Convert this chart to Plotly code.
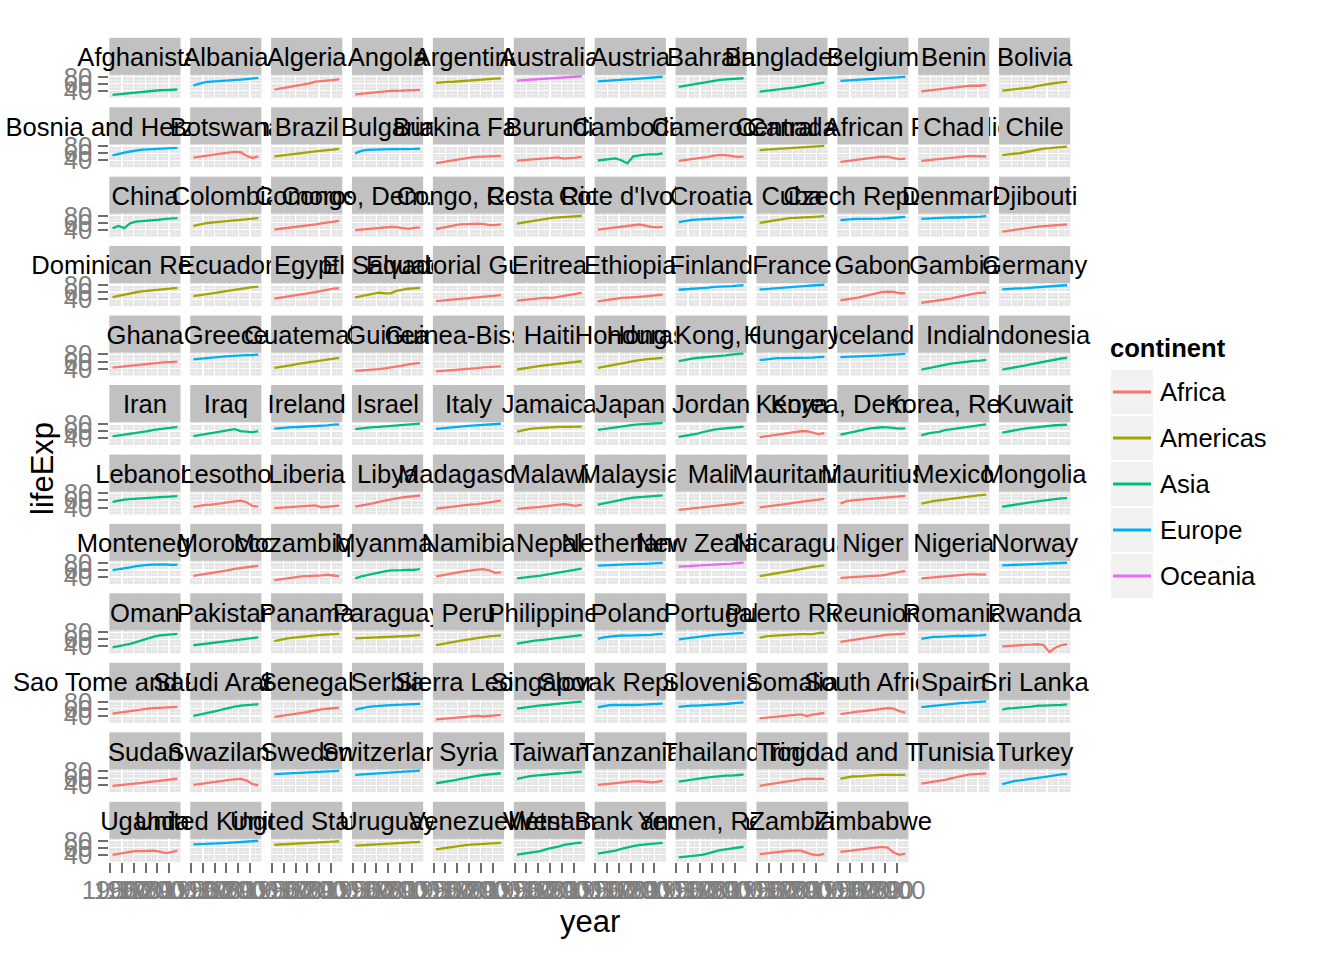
import math
import plotly.graph_objects as go

years = [1952, 1957, 1962, 1967, 1972, 1977, 1982, 1987, 1992, 1997, 2002, 2007]

countries = [
    "Afghanistan", "Albania", "Algeria", "Angola", "Argentina", "Australia", "Austria", "Bahrain",
    "Bangladesh", "Belgium", "Benin", "Bolivia", "Bosnia and Herzegovina", "Botswana", "Brazil",
    "Bulgaria", "Burkina Faso", "Burundi", "Cambodia", "Cameroon", "Canada", "Central African Republic",
    "Chad", "Chile", "China", "Colombia", "Comoros", "Congo, Dem. Rep.", "Congo, Rep.", "Costa Rica",
    "Cote d'Ivoire", "Croatia", "Cuba", "Czech Republic", "Denmark", "Djibouti", "Dominican Republic",
    "Ecuador", "Egypt", "El Salvador", "Equatorial Guinea", "Eritrea", "Ethiopia", "Finland", "France",
    "Gabon", "Gambia", "Germany", "Ghana", "Greece", "Guatemala", "Guinea", "Guinea-Bissau", "Haiti",
    "Honduras", "Hong Kong, China", "Hungary", "Iceland", "India", "Indonesia", "Iran", "Iraq", "Ireland",
    "Israel", "Italy", "Jamaica", "Japan", "Jordan", "Kenya", "Korea, Dem. Rep.", "Korea, Rep.", "Kuwait",
    "Lebanon", "Lesotho", "Liberia", "Libya", "Madagascar", "Malawi", "Malaysia", "Mali", "Mauritania",
    "Mauritius", "Mexico", "Mongolia", "Montenegro", "Morocco", "Mozambique", "Myanmar", "Namibia",
    "Nepal", "Netherlands", "New Zealand", "Nicaragua", "Niger", "Nigeria", "Norway", "Oman", "Pakistan",
    "Panama", "Paraguay", "Peru", "Philippines", "Poland", "Portugal", "Puerto Rico", "Reunion",
    "Romania", "Rwanda", "Sao Tome and Principe", "Saudi Arabia", "Senegal", "Serbia", "Sierra Leone",
    "Singapore", "Slovak Republic", "Slovenia", "Somalia", "South Africa", "Spain", "Sri Lanka", "Sudan",
    "Swaziland", "Sweden", "Switzerland", "Syria", "Taiwan", "Tanzania", "Thailand", "Togo",
    "Trinidad and Tobago", "Tunisia", "Turkey", "Uganda", "United Kingdom", "United States", "Uruguay",
    "Venezuela", "Vietnam", "West Bank and Gaza", "Yemen, Rep.", "Zambia", "Zimbabwe",
]

continents = [
    "Asia", "Europe", "Africa", "Africa", "Americas", "Oceania", "Europe", "Asia",
    "Asia", "Europe", "Africa", "Americas", "Europe", "Africa", "Americas",
    "Europe", "Africa", "Africa", "Asia", "Africa", "Americas", "Africa",
    "Africa", "Americas", "Asia", "Americas", "Africa", "Africa", "Africa", "Americas",
    "Africa", "Europe", "Americas", "Europe", "Europe", "Africa", "Americas",
    "Americas", "Africa", "Americas", "Africa", "Africa", "Africa", "Europe", "Europe",
    "Africa", "Africa", "Europe", "Africa", "Europe", "Americas", "Africa", "Africa", "Americas",
    "Americas", "Asia", "Europe", "Europe", "Asia", "Asia", "Asia", "Asia", "Europe",
    "Asia", "Europe", "Americas", "Asia", "Asia", "Africa", "Asia", "Asia", "Asia",
    "Asia", "Africa", "Africa", "Africa", "Africa", "Africa", "Asia", "Africa", "Africa",
    "Africa", "Americas", "Asia", "Europe", "Africa", "Africa", "Asia", "Africa",
    "Asia", "Europe", "Oceania", "Americas", "Africa", "Africa", "Europe", "Asia", "Asia",
    "Americas", "Americas", "Americas", "Asia", "Europe", "Europe", "Americas", "Africa",
    "Europe", "Africa", "Africa", "Asia", "Africa", "Europe", "Africa",
    "Asia", "Europe", "Europe", "Africa", "Africa", "Europe", "Asia", "Africa",
    "Africa", "Europe", "Europe", "Asia", "Asia", "Africa", "Asia", "Africa",
    "Americas", "Africa", "Europe", "Africa", "Europe", "Americas", "Americas",
    "Americas", "Asia", "Asia", "Asia", "Africa", "Africa",
]

life_exp = [
    [28.8, 30.3, 32.0, 34.0, 36.1, 38.4, 39.9, 40.8, 41.7, 41.8, 42.1, 43.8],
    [55.2, 59.3, 64.8, 66.2, 67.7, 68.9, 70.4, 72.0, 71.6, 73.0, 75.7, 76.4],
    [43.1, 45.7, 48.3, 51.4, 54.5, 58.0, 61.4, 65.8, 67.7, 69.2, 71.0, 72.3],
    [30.0, 32.0, 34.0, 36.0, 37.9, 39.5, 39.9, 39.9, 40.6, 41.0, 41.0, 42.7],
    [62.5, 64.4, 65.1, 65.6, 67.1, 68.5, 69.9, 70.8, 71.9, 73.3, 74.3, 75.3],
    [69.1, 70.3, 70.9, 71.1, 71.9, 73.5, 74.7, 76.3, 77.6, 78.8, 80.4, 81.2],
    [66.8, 67.5, 69.5, 70.1, 70.6, 72.2, 73.2, 74.9, 76.0, 77.5, 79.0, 79.8],
    [50.9, 53.8, 56.9, 59.9, 63.3, 65.6, 69.1, 70.8, 72.6, 73.9, 74.8, 75.6],
    [37.5, 39.3, 41.2, 43.5, 45.3, 46.9, 50.0, 52.8, 56.0, 59.4, 62.0, 64.1],
    [68.0, 69.2, 70.3, 70.9, 71.4, 72.8, 73.9, 75.4, 76.5, 77.5, 78.3, 79.4],
    [38.2, 40.4, 42.6, 44.9, 47.0, 49.2, 50.9, 52.3, 53.9, 54.8, 54.4, 56.7],
    [40.4, 41.9, 43.4, 45.0, 46.7, 50.0, 53.9, 57.3, 59.9, 62.1, 63.9, 65.6],
    [53.8, 58.5, 61.9, 64.8, 67.5, 69.9, 70.7, 71.1, 72.2, 73.2, 74.1, 74.9],
    [47.6, 49.6, 51.5, 53.3, 56.0, 59.3, 61.5, 63.6, 62.7, 52.6, 46.6, 50.7],
    [50.9, 53.3, 55.7, 57.6, 59.5, 61.5, 63.3, 65.2, 67.1, 69.4, 71.0, 72.4],
    [59.6, 66.6, 69.5, 70.4, 70.9, 70.8, 71.3, 71.3, 71.2, 70.3, 72.1, 73.0],
    [32.0, 34.9, 37.8, 40.7, 43.6, 46.1, 48.1, 49.6, 50.3, 50.3, 50.7, 52.3],
    [39.0, 40.5, 42.0, 43.5, 44.1, 45.9, 47.5, 48.2, 44.7, 45.3, 47.4, 49.6],
    [39.4, 41.4, 43.4, 45.4, 40.3, 31.2, 51.0, 53.9, 55.8, 56.5, 56.8, 59.7],
    [38.5, 40.4, 42.6, 44.8, 47.0, 49.4, 53.0, 55.0, 54.3, 52.2, 49.9, 50.4],
    [68.8, 70.0, 71.3, 72.1, 72.9, 74.2, 75.8, 76.9, 77.9, 78.6, 79.8, 80.7],
    [35.5, 37.5, 39.5, 41.5, 43.5, 46.8, 48.3, 50.5, 49.4, 46.1, 43.3, 44.7],
    [38.1, 39.9, 41.7, 43.6, 45.6, 47.4, 49.5, 51.1, 51.7, 51.6, 50.5, 50.7],
    [54.7, 56.1, 57.9, 60.5, 63.4, 67.1, 70.6, 73.0, 74.1, 75.8, 77.9, 78.6],
    [44.0, 50.5, 44.5, 58.4, 63.1, 64.0, 65.5, 67.3, 68.7, 70.4, 72.0, 73.0],
    [50.6, 55.1, 57.9, 60.0, 61.6, 63.8, 66.7, 67.8, 68.4, 70.3, 71.7, 72.9],
    [40.7, 42.5, 44.5, 46.5, 48.9, 50.9, 52.9, 54.9, 57.9, 60.7, 63.0, 65.2],
    [39.1, 40.7, 42.1, 44.1, 45.9, 47.8, 47.8, 47.4, 45.5, 42.6, 45.0, 46.5],
    [42.1, 45.1, 48.4, 52.0, 54.9, 55.6, 56.7, 57.5, 56.4, 53.0, 53.0, 55.3],
    [57.2, 60.0, 62.8, 65.4, 67.8, 70.8, 73.4, 74.8, 75.7, 77.3, 78.1, 78.8],
    [40.5, 42.5, 44.9, 47.4, 49.8, 52.4, 54.0, 54.7, 52.0, 48.0, 46.8, 48.3],
    [61.2, 64.8, 67.1, 68.5, 69.6, 70.6, 70.5, 71.5, 72.5, 73.7, 74.9, 75.7],
    [59.4, 62.3, 65.2, 68.3, 70.7, 72.6, 73.7, 74.2, 74.4, 76.2, 77.2, 78.3],
    [66.9, 69.0, 69.9, 70.4, 70.3, 70.7, 71.0, 71.6, 72.4, 74.0, 75.5, 76.5],
    [70.8, 71.8, 72.4, 73.0, 73.5, 74.7, 74.6, 74.8, 75.3, 76.1, 77.2, 78.3],
    [34.8, 37.3, 39.7, 42.1, 44.4, 46.5, 48.8, 50.0, 51.6, 53.2, 53.4, 54.8],
    [45.9, 49.8, 53.5, 56.8, 59.6, 61.8, 63.7, 66.0, 68.5, 70.0, 70.8, 72.2],
    [48.4, 51.4, 54.6, 56.7, 58.8, 61.3, 64.3, 67.2, 69.6, 72.3, 74.2, 75.0],
    [41.9, 44.4, 47.0, 49.3, 51.1, 53.3, 56.0, 59.8, 63.7, 67.2, 69.8, 71.3],
    [45.3, 48.6, 52.3, 55.9, 58.2, 56.7, 56.6, 63.2, 66.8, 69.5, 70.7, 71.9],
    [34.5, 36.0, 37.5, 39.0, 40.5, 42.0, 43.7, 45.7, 47.5, 48.2, 49.3, 51.6],
    [35.9, 38.0, 40.2, 42.2, 44.5, 44.5, 43.9, 46.5, 50.0, 53.4, 55.2, 58.0],
    [34.1, 36.7, 40.1, 42.1, 43.5, 44.5, 44.9, 46.7, 48.1, 49.4, 50.7, 52.9],
    [66.6, 67.5, 68.8, 69.8, 70.9, 72.5, 74.6, 74.8, 75.7, 77.1, 78.4, 79.3],
    [67.4, 68.9, 70.5, 71.6, 72.4, 73.8, 74.9, 76.3, 77.5, 78.6, 79.6, 80.7],
    [37.0, 39.0, 41.0, 44.6, 48.7, 52.8, 56.6, 60.2, 61.4, 60.5, 56.8, 56.7],
    [30.0, 32.1, 33.9, 35.9, 38.3, 41.8, 45.6, 49.3, 52.6, 55.9, 58.0, 59.4],
    [67.5, 69.1, 70.3, 70.8, 71.0, 72.5, 73.8, 74.8, 76.1, 77.3, 78.7, 79.4],
    [43.1, 44.8, 46.5, 48.1, 49.9, 51.8, 53.7, 55.7, 57.5, 58.6, 58.5, 60.0],
    [65.9, 67.9, 69.5, 71.0, 72.3, 73.7, 75.2, 76.7, 77.0, 77.9, 78.3, 79.5],
    [42.0, 44.1, 46.0, 50.0, 53.7, 56.0, 58.1, 60.8, 63.4, 66.3, 69.0, 70.3],
    [33.6, 34.6, 35.8, 37.2, 38.8, 40.8, 42.9, 45.2, 48.6, 52.2, 53.7, 56.0],
    [32.5, 33.5, 34.5, 35.5, 36.5, 37.5, 39.3, 41.2, 43.3, 44.9, 45.5, 46.4],
    [37.6, 40.7, 43.6, 46.2, 48.0, 49.9, 51.5, 53.6, 55.1, 56.7, 58.1, 60.9],
    [41.9, 44.7, 48.0, 50.9, 53.9, 57.4, 60.9, 64.5, 66.4, 67.7, 68.6, 70.2],
    [61.0, 64.8, 67.7, 70.0, 72.0, 73.6, 75.5, 76.2, 77.6, 80.0, 81.5, 82.2],
    [64.0, 66.4, 68.0, 69.5, 69.8, 70.0, 69.4, 69.6, 69.2, 71.0, 72.6, 73.3],
    [72.5, 73.5, 73.7, 73.7, 74.5, 76.1, 77.0, 77.2, 78.8, 79.0, 80.5, 81.8],
    [37.4, 40.2, 43.6, 47.2, 50.7, 54.2, 56.6, 58.6, 60.2, 61.8, 62.9, 64.7],
    [37.5, 39.9, 42.5, 46.0, 49.2, 52.7, 56.2, 60.1, 62.7, 66.0, 68.6, 70.7],
    [44.9, 47.2, 49.3, 52.5, 55.2, 57.7, 59.6, 63.0, 65.7, 68.0, 69.5, 71.0],
    [45.3, 48.4, 51.5, 54.5, 57.0, 60.4, 62.0, 65.0, 59.5, 58.8, 57.0, 59.5],
    [66.9, 68.9, 70.3, 71.1, 71.3, 72.0, 73.1, 74.4, 75.5, 76.1, 77.8, 78.9],
    [65.4, 67.8, 69.4, 70.8, 71.6, 73.1, 74.5, 75.6, 76.9, 78.3, 79.7, 80.7],
    [65.9, 67.8, 69.2, 71.1, 72.2, 73.5, 75.0, 76.4, 77.4, 78.8, 80.2, 80.5],
    [58.5, 62.6, 65.6, 67.5, 69.0, 70.1, 71.2, 71.8, 71.8, 72.3, 72.0, 72.6],
    [63.0, 65.5, 68.7, 71.4, 73.4, 75.4, 77.1, 78.7, 79.4, 80.7, 82.0, 82.6],
    [43.2, 45.7, 48.1, 51.6, 56.5, 61.1, 63.7, 65.9, 68.0, 69.8, 71.3, 72.5],
    [42.3, 44.7, 47.9, 50.7, 53.6, 56.2, 58.8, 59.3, 59.3, 54.4, 51.0, 54.1],
    [50.1, 54.1, 56.7, 59.9, 64.0, 67.2, 69.1, 70.6, 70.0, 67.7, 66.7, 67.3],
    [47.5, 52.7, 55.3, 57.7, 62.6, 64.8, 67.1, 69.8, 72.2, 74.6, 77.0, 78.6],
    [55.6, 58.0, 60.5, 64.6, 67.7, 69.3, 71.3, 74.2, 75.2, 76.2, 76.9, 77.6],
    [55.9, 59.5, 62.1, 63.9, 65.4, 66.1, 67.0, 67.9, 69.3, 70.3, 71.0, 72.0],
    [42.1, 45.0, 47.7, 48.5, 49.8, 52.5, 55.1, 57.2, 59.7, 55.6, 44.6, 42.6],
    [38.5, 39.5, 40.5, 41.5, 42.6, 43.8, 44.9, 46.0, 40.8, 42.2, 43.8, 45.7],
    [42.7, 45.3, 48.4, 52.0, 56.0, 59.9, 63.0, 66.2, 68.8, 70.6, 72.7, 74.0],
    [36.7, 38.9, 40.8, 42.9, 44.9, 46.9, 49.0, 49.4, 51.5, 55.0, 57.3, 59.4],
    [36.3, 37.2, 38.4, 39.5, 41.8, 43.8, 45.6, 47.5, 49.4, 47.5, 45.0, 48.3],
    [48.5, 52.1, 55.7, 59.4, 63.0, 65.3, 68.0, 69.5, 70.7, 71.9, 73.0, 74.2],
    [33.7, 35.3, 36.9, 38.5, 40.0, 41.7, 43.9, 46.4, 48.4, 49.9, 51.8, 54.5],
    [40.5, 42.3, 44.2, 46.3, 48.4, 50.9, 53.6, 56.1, 58.3, 60.4, 62.2, 64.2],
    [51.0, 58.1, 60.2, 61.6, 62.9, 64.9, 66.7, 68.0, 69.7, 70.9, 72.3, 72.8],
    [50.8, 55.2, 58.3, 60.1, 62.4, 65.0, 67.4, 69.5, 71.5, 73.7, 74.9, 76.2],
    [42.2, 45.2, 48.3, 51.3, 53.8, 55.5, 57.5, 60.2, 61.3, 63.6, 65.7, 66.8],
    [59.2, 61.4, 63.7, 67.2, 70.6, 73.1, 74.1, 74.9, 75.4, 75.4, 74.0, 74.5],
    [42.9, 45.4, 47.9, 50.3, 52.9, 55.7, 59.7, 62.7, 65.4, 67.7, 69.6, 71.2],
    [31.3, 33.8, 36.2, 38.1, 40.3, 42.5, 42.8, 42.9, 44.3, 46.3, 44.0, 42.1],
    [36.3, 41.9, 45.1, 49.4, 53.1, 56.1, 58.9, 58.3, 59.3, 60.3, 59.9, 62.1],
    [41.7, 45.2, 48.4, 51.2, 53.9, 56.4, 59.0, 60.8, 62.0, 58.9, 51.5, 52.9],
    [36.2, 37.7, 39.4, 41.2, 44.0, 46.7, 49.6, 52.5, 55.7, 59.4, 61.3, 63.8],
    [72.1, 73.0, 73.2, 73.8, 73.8, 75.2, 76.0, 76.8, 77.0, 78.0, 78.5, 79.8],
    [69.4, 70.3, 71.2, 71.5, 71.9, 72.2, 73.8, 74.3, 76.3, 77.6, 79.1, 80.2],
    [42.3, 45.4, 48.6, 51.9, 55.2, 57.5, 59.3, 62.0, 65.8, 68.4, 70.8, 73.0],
    [37.4, 38.6, 39.5, 40.1, 40.5, 41.3, 42.6, 44.6, 47.4, 51.3, 54.5, 56.9],
    [36.3, 37.8, 39.4, 41.0, 42.8, 44.5, 45.8, 46.9, 47.5, 47.5, 46.6, 46.9],
    [72.7, 73.4, 73.5, 74.1, 74.3, 75.4, 76.0, 76.8, 77.3, 78.3, 79.1, 80.2],
    [37.6, 40.1, 43.2, 47.0, 52.1, 57.4, 63.0, 67.7, 71.2, 72.5, 74.2, 75.6],
    [43.4, 45.6, 47.7, 49.8, 51.9, 54.0, 56.2, 58.2, 60.1, 61.8, 63.6, 65.5],
    [55.2, 59.2, 61.8, 64.1, 66.2, 68.7, 70.5, 71.5, 72.5, 73.7, 74.7, 75.5],
    [62.6, 63.2, 64.4, 65.0, 65.8, 66.4, 67.0, 67.4, 68.2, 69.4, 70.8, 71.8],
    [43.9, 46.3, 49.1, 51.4, 55.4, 58.4, 61.4, 64.1, 66.5, 68.4, 69.9, 71.4],
    [47.8, 51.3, 54.8, 56.4, 58.1, 60.1, 62.1, 64.2, 66.5, 68.6, 70.3, 71.7],
    [61.3, 65.8, 67.6, 69.6, 70.9, 70.7, 71.3, 71.0, 71.0, 72.8, 74.7, 75.6],
    [59.8, 61.5, 63.5, 65.6, 67.0, 70.4, 72.8, 74.1, 74.9, 76.0, 77.3, 78.1],
    [64.3, 68.5, 69.6, 71.1, 72.2, 73.4, 73.8, 74.6, 73.9, 74.9, 77.8, 78.7],
    [52.7, 55.3, 57.7, 60.5, 64.3, 67.1, 69.9, 71.9, 73.4, 74.2, 75.7, 76.4],
    [61.1, 64.1, 66.8, 67.1, 68.2, 69.5, 69.7, 69.5, 69.4, 69.7, 71.3, 72.5],
    [40.0, 41.5, 43.0, 44.1, 44.6, 45.0, 46.2, 44.0, 23.6, 36.1, 43.4, 46.2],
    [46.5, 48.9, 51.9, 54.4, 56.5, 58.6, 60.4, 61.7, 62.7, 63.3, 64.3, 65.5],
    [39.9, 42.9, 45.9, 49.9, 53.9, 58.7, 63.0, 66.3, 68.8, 70.5, 71.6, 72.8],
    [37.3, 39.3, 41.5, 43.6, 45.8, 48.9, 52.4, 55.8, 58.2, 60.2, 61.6, 63.1],
    [58.0, 61.7, 64.5, 66.9, 68.7, 70.3, 70.2, 71.2, 71.7, 72.2, 73.2, 74.0],
    [30.3, 31.6, 32.8, 34.1, 35.4, 36.8, 38.4, 40.0, 38.3, 39.9, 41.0, 42.6],
    [60.4, 63.2, 65.8, 67.9, 69.5, 70.8, 71.8, 73.6, 75.8, 77.2, 78.8, 80.0],
    [64.4, 67.5, 70.3, 71.0, 70.4, 70.5, 70.8, 71.1, 71.4, 72.7, 73.8, 74.7],
    [65.6, 67.9, 69.2, 69.2, 69.8, 71.0, 71.1, 72.3, 73.6, 75.1, 76.7, 77.9],
    [33.0, 35.0, 37.0, 39.0, 41.0, 42.0, 43.0, 44.5, 39.7, 43.8, 45.9, 48.2],
    [45.0, 48.0, 50.0, 51.9, 53.7, 55.5, 58.2, 60.7, 61.9, 60.2, 53.4, 49.3],
    [64.9, 66.7, 69.7, 71.4, 73.1, 74.4, 76.3, 76.9, 77.6, 78.8, 79.8, 80.9],
    [57.6, 61.5, 62.2, 64.3, 65.0, 65.9, 68.8, 69.0, 70.4, 70.5, 70.8, 72.4],
    [38.6, 40.0, 41.5, 43.2, 45.0, 47.0, 49.2, 50.9, 52.5, 55.4, 56.4, 58.6],
    [41.4, 43.4, 45.0, 46.6, 49.6, 52.5, 55.6, 57.7, 58.5, 54.3, 43.9, 39.6],
    [71.9, 72.5, 73.4, 74.2, 74.7, 75.4, 76.4, 77.2, 78.2, 79.4, 80.0, 80.9],
    [69.6, 70.6, 71.3, 72.8, 73.8, 75.4, 76.2, 77.4, 78.0, 79.4, 80.6, 81.7],
    [45.9, 48.3, 50.3, 53.7, 57.3, 61.2, 64.6, 67.0, 69.2, 71.5, 73.1, 74.1],
    [58.5, 62.4, 65.2, 67.5, 69.4, 70.6, 72.2, 73.4, 74.3, 75.3, 77.0, 78.4],
    [41.2, 43.0, 44.2, 45.8, 47.6, 49.9, 51.0, 51.5, 50.4, 48.5, 49.7, 52.5],
    [50.8, 53.6, 56.1, 58.3, 60.4, 62.5, 64.6, 66.1, 67.3, 67.5, 68.6, 70.6],
    [38.6, 41.2, 43.9, 46.8, 49.8, 52.9, 55.5, 56.9, 58.1, 58.4, 57.6, 58.4],
    [59.1, 61.8, 64.9, 65.4, 65.9, 68.3, 68.8, 69.6, 69.9, 69.5, 69.0, 69.8],
    [44.6, 47.1, 49.6, 52.1, 55.6, 59.8, 64.0, 66.9, 70.0, 72.0, 73.0, 73.9],
    [43.6, 48.1, 52.1, 54.3, 57.0, 60.0, 61.0, 63.1, 66.1, 68.8, 70.8, 71.8],
    [40.0, 42.6, 45.3, 48.1, 51.0, 50.4, 49.9, 51.5, 48.8, 44.6, 47.8, 51.5],
    [69.2, 70.4, 70.8, 71.4, 72.0, 72.8, 74.0, 75.0, 76.4, 77.2, 78.5, 79.4],
    [68.4, 69.5, 70.2, 70.8, 71.3, 73.4, 74.7, 75.0, 76.1, 76.8, 77.3, 78.2],
    [66.1, 67.0, 68.3, 68.5, 68.7, 69.5, 70.8, 71.9, 72.8, 74.2, 75.3, 76.4],
    [55.1, 57.9, 60.8, 63.5, 65.7, 67.5, 68.6, 69.9, 71.2, 72.1, 72.8, 73.7],
    [40.4, 42.9, 45.4, 47.8, 50.3, 55.8, 58.8, 62.8, 67.7, 70.7, 73.0, 74.2],
    [43.2, 45.7, 48.1, 51.6, 56.5, 60.8, 64.4, 67.0, 69.7, 71.1, 72.4, 73.4],
    [32.5, 34.0, 35.2, 37.0, 39.8, 44.2, 49.1, 52.9, 55.6, 58.0, 60.3, 62.7],
    [42.0, 44.1, 46.0, 47.8, 50.1, 51.4, 51.8, 51.8, 46.1, 40.2, 39.2, 42.4],
    [48.5, 50.5, 52.4, 54.0, 55.6, 57.7, 60.4, 62.4, 60.4, 46.8, 40.0, 43.5],
]

continent_order = ["Africa", "Americas", "Asia", "Europe", "Oceania"]
continent_colors = ["#F8766D", "#A3A500", "#00BF7D", "#00B0F6", "#E76BF3"]

x_major = [1950, 1960, 1970, 1980, 1990, 2000]
x_minor = [1955, 1965, 1975, 1985, 1995, 2005]
y_major = [40, 60, 80]
y_minor = [30, 50, 70]

# ---------------- layout geometry (pixels) ----------------
W, H = 1344, 960
NCOL = 12
X0, XP, PW = 109.3, 80.88, 71.3
Y0, YP, SH, PH = 37.7, 69.45, 37.0, 23.0
FONT = "Liberation Sans, Arial, Helvetica, sans-serif"
STRIP = "#C1C1C1"
PANEL = "#E5E5E5"
AXGREY = "#7F7F7F"
TICKGREY = "#6E6E6E"
TXT = 25.6
TEXT_DROP_PX = 3.5

all_vals = [v for row in life_exp for v in row]
lo, hi = min(all_vals), max(all_vals)
ypad = 0.05 * (hi - lo)
ylo, ypanel_top = lo - ypad, hi + ypad
units_per_px = (ypanel_top - ylo) / PH
ystrip_top = ypanel_top + units_per_px * SH
xpad = 0.05 * (max(years) - min(years))
xlo, xhi = min(years) - xpad, max(years) + xpad

col_of = dict(zip(continent_order, continent_colors))
n = len(countries)
nrow = math.ceil(n / NCOL)

fig = go.Figure()
layout = {}
shapes = []

for i, name in enumerate(countries):
    r, c = divmod(i, NCOL)
    k = i + 1
    sfx = "" if k == 1 else str(k)
    xa, ya = "x" + sfx, "y" + sfx
    left = X0 + XP * c
    top = Y0 + YP * r
    bottom = top + SH + PH
    bottom_row = (r == nrow - 1)
    first_col = (c == 0)

    layout["xaxis" + sfx] = dict(
        domain=[left / W, (left + PW) / W], range=[xlo, xhi], anchor=ya,
        automargin=False,
        tickmode="array", tickvals=x_major, ticktext=[str(v) for v in x_major],
        showgrid=True, gridcolor="white", gridwidth=1.3,
        minor=dict(tickvals=x_minor, showgrid=True, gridcolor="#F2F2F2", gridwidth=0.7),
        zeroline=False, showline=False, fixedrange=True,
        ticks="outside" if bottom_row else "", ticklen=10, tickwidth=2, tickcolor=TICKGREY,
        showticklabels=bottom_row, tickangle=0, ticklabelstandoff=-4,
        tickfont=dict(family=FONT, size=TXT, color=AXGREY),
    )
    layout["yaxis" + sfx] = dict(
        domain=[1 - bottom / H, 1 - top / H], range=[ylo, ystrip_top], anchor=xa,
        automargin=False,
        tickmode="array", tickvals=y_major, ticktext=[str(v) for v in y_major],
        showgrid=True, gridcolor="white", gridwidth=1.3,
        minor=dict(tickvals=y_minor, showgrid=True, gridcolor="#F2F2F2", gridwidth=0.7),
        zeroline=False, showline=False, fixedrange=True,
        ticks="outside" if first_col else "", ticklen=10, tickwidth=2, tickcolor=TICKGREY,
        showticklabels=first_col, ticklabelstandoff=1,
        tickfont=dict(family=FONT, size=TXT, color=AXGREY),
    )
    shapes.append(dict(type="rect", xref=xa, yref=ya, x0=xlo, x1=xhi,
                       y0=ypanel_top, y1=ystrip_top, fillcolor=STRIP,
                       line=dict(width=0), layer="between"))
    fig.add_trace(go.Scatter(
        x=years, y=life_exp[i], mode="lines", xaxis=xa, yaxis=ya,
        line=dict(color=col_of[continents[i]], width=2.3),
        hoverinfo="skip", showlegend=False))
    fig.add_trace(go.Scatter(
        x=[(xlo + xhi) / 2],
        y=[(ypanel_top + ystrip_top) / 2 - TEXT_DROP_PX * units_per_px],
        mode="text", text=[name], textposition="middle center", cliponaxis=False,
        textfont=dict(family=FONT, size=TXT, color="black"),
        xaxis=xa, yaxis=ya, hoverinfo="skip", showlegend=False))

annotations = [
    dict(text="year", x=590 / W, y=1 - 921 / H, xref="paper", yref="paper",
         showarrow=False, font=dict(family=FONT, size=31, color="black"),
         xanchor="center", yanchor="middle"),
    dict(text="lifeExp", x=42 / W, y=1 - 469 / H, xref="paper", yref="paper",
         showarrow=False, textangle=-90, font=dict(family=FONT, size=31, color="black"),
         xanchor="center", yanchor="middle"),
    dict(text="<b>continent</b>", x=1108 / W, y=1 - 348 / H, xref="paper", yref="paper",
         showarrow=False, font=dict(family=FONT, size=TXT, color="black"),
         xanchor="left", yanchor="middle"),
]

# manual ggplot-style legend
KX0, KX1, KY0, KH = 1110, 1154, 369, 46
for j, (cont, colr) in enumerate(zip(continent_order, continent_colors)):
    y0 = KY0 + KH * j
    yc = y0 + KH / 2
    shapes.append(dict(type="rect", xref="paper", yref="paper",
                       x0=KX0 / W, x1=KX1 / W, y0=1 - (y0 + KH) / H, y1=1 - y0 / H,
                       fillcolor="#F2F2F2", line=dict(color="white", width=2), layer="above"))
    shapes.append(dict(type="line", xref="paper", yref="paper",
                       x0=(KX0 + 3) / W, x1=(KX1 - 3) / W, y0=1 - yc / H, y1=1 - yc / H,
                       line=dict(color=colr, width=3), layer="above"))
    annotations.append(dict(text=cont, x=1158 / W, y=1 - yc / H, xref="paper", yref="paper",
                            showarrow=False, font=dict(family=FONT, size=TXT, color="black"),
                            xanchor="left", yanchor="middle"))

fig.update_layout(
    template="none",
    width=W, height=H, autosize=False,
    margin=dict(l=0, r=0, t=0, b=0, pad=0),
    paper_bgcolor="white", plot_bgcolor=PANEL,
    showlegend=False, shapes=shapes, annotations=annotations,
    font=dict(family=FONT),
    **layout,
)

fig.write_html("out.html", config={"staticPlot": True})
